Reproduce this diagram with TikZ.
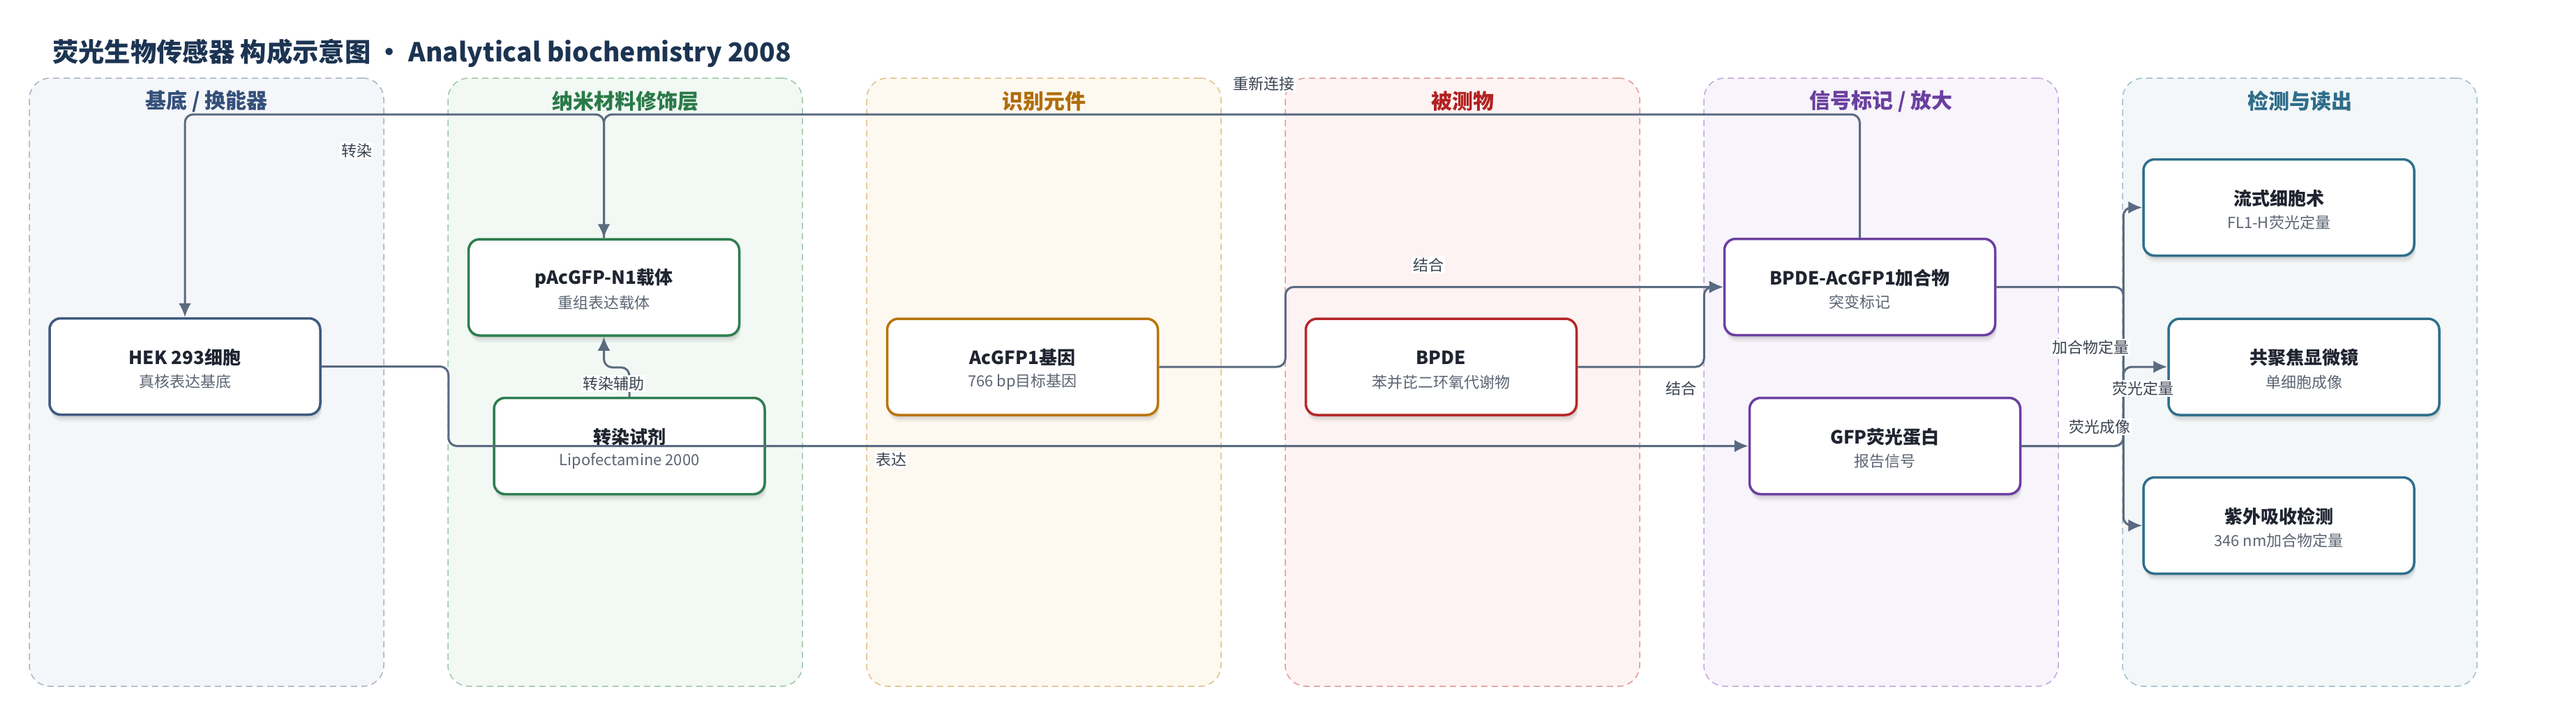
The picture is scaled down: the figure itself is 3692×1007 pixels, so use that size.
\documentclass[tikz,border=0pt]{standalone}
\usepackage{fontspec}
\setmainfont{Noto Sans CJK SC}
\usetikzlibrary{arrows.meta,shadows,calc}

\definecolor{edgec}{HTML}{5A6A80}
\definecolor{titlec}{HTML}{1C3452}
\definecolor{nodetxt}{HTML}{1F2430}
\definecolor{subtxt}{HTML}{5C6573}
\definecolor{labtxt}{HTML}{3A4350}
% panel colours: title, node border, fill, dashed border
\definecolor{aT}{HTML}{34507A}\definecolor{aN}{HTML}{3D5A80}\definecolor{aF}{HTML}{F5F6FA}\definecolor{aD}{HTML}{A8B3C7}
\definecolor{bT}{HTML}{2A7A48}\definecolor{bN}{HTML}{2E7D4F}\definecolor{bF}{HTML}{F2F8F4}\definecolor{bD}{HTML}{9CC7AA}
\definecolor{cT}{HTML}{B06D0A}\definecolor{cN}{HTML}{B8740A}\definecolor{cF}{HTML}{FDF8F0}\definecolor{cD}{HTML}{E3BF88}
\definecolor{dT}{HTML}{B22222}\definecolor{dN}{HTML}{B5282A}\definecolor{dF}{HTML}{FDF3F2}\definecolor{dD}{HTML}{E29896}
\definecolor{eT}{HTML}{6A3FA0}\definecolor{eN}{HTML}{6B3FA0}\definecolor{eF}{HTML}{F7F4FB}\definecolor{eD}{HTML}{C2A7DC}
\definecolor{fT}{HTML}{2E6D8A}\definecolor{fN}{HTML}{2F6F8C}\definecolor{fF}{HTML}{F3F7F8}\definecolor{fD}{HTML}{9EBFCB}

\tikzset{
  panelbox/.style={rounded corners=30pt, dash pattern=on 9pt off 6pt, line width=1.5pt,
    minimum width=508pt, minimum height=872pt, inner sep=0pt},
  ptitle/.style={font=\bfseries\fontsize{30}{34}\selectfont, inner sep=0pt},
  bx/.style={rectangle, rounded corners=16pt, line width=3.5pt, fill=white,
    minimum width=388pt, minimum height=138pt, inner sep=0pt,
    drop shadow={shadow xshift=1pt, shadow yshift=-4pt, opacity=0.07, fill=black},
    drop shadow={shadow xshift=2pt, shadow yshift=-7pt, opacity=0.05, fill=black},
    drop shadow={shadow xshift=2pt, shadow yshift=-10pt, opacity=0.04, fill=black}},
  ntitle/.style={font=\bfseries\fontsize{26}{30}\selectfont, text=nodetxt, inner sep=0pt},
  nsub/.style={font=\fontsize{22}{26}\selectfont, text=subtxt, inner sep=0pt},
  edge/.style={draw=edgec, line width=3pt, rounded corners=12pt,
    -{Latex[length=20pt,width=18pt]}},
  elab/.style={font=\fontsize{22}{26}\selectfont, text=labtxt, fill=white, inner sep=2pt},
}

\newcommand{\bnode}[6]{%
  \node[bx, draw=#4] (#1) at (#2,#3) {};
  \node[ntitle] (#1-t) at ($(#1.center)+(0,-13)$) {#5};
  \node[nsub] (#1-s) at ($(#1.center)+(0,22)$) {#6};
}

\begin{document}
\begin{tikzpicture}[x=1pt,y=-1pt]
\useasboundingbox (0,0) rectangle (3692,1007);

% title
\node[anchor=west, font=\bfseries\fontsize{37.3}{44}\selectfont, text=titlec, inner sep=0pt] (title)
  at (75,76) {荧光生物传感器 构成示意图 · Analytical biochemistry 2008};

% panels
\node[panelbox, fill=aF, draw=aD] (p1) at (296,548) {};
\node[panelbox, fill=bF, draw=bD] (p2) at (896,548) {};
\node[panelbox, fill=cF, draw=cD] (p3) at (1496,548) {};
\node[panelbox, fill=dF, draw=dD] (p4) at (2096,548) {};
\node[panelbox, fill=eF, draw=eD] (p5) at (2696,548) {};
\node[panelbox, fill=fF, draw=fD] (p6) at (3296,548) {};
\node[ptitle, text=aT] (p1t) at (296,145) {基底 / 换能器};
\node[ptitle, text=bT] (p2t) at (896,145) {纳米材料修饰层};
\node[ptitle, text=cT] (p3t) at (1496,145) {识别元件};
\node[ptitle, text=dT] (p4t) at (2096,145) {被测物};
\node[ptitle, text=eT] (p5t) at (2696,145) {信号标记 / 放大};
\node[ptitle, text=fT] (p6t) at (3296,145) {检测与读出};

% nodes
\bnode{hek}{265}{525.5}{aN}{HEK 293细胞}{真核表达基底}
\bnode{vec}{865.5}{412}{bN}{pAcGFP-N1载体}{重组表达载体}
\bnode{lipo}{902}{639.5}{bN}{转染试剂}{Lipofectamine 2000}
\bnode{gene}{1465.5}{526}{cN}{AcGFP1基因}{766 bp目标基因}
\bnode{bpde}{2065.5}{526}{dN}{BPDE}{苯并芘二环氧代谢物}
\bnode{add}{2665.5}{411.5}{eN}{BPDE-AcGFP1加合物}{突变标记}
\bnode{gfp}{2701.5}{639.5}{eN}{GFP荧光蛋白}{报告信号}
\bnode{flow}{3266}{297.5}{fN}{流式细胞术}{FL1-H荧光定量}
\bnode{conf}{3302}{526}{fN}{共聚焦显微镜}{单细胞成像}
\bnode{uv}{3266}{753.5}{fN}{紫外吸收检测}{346 nm加合物定量}

% connectors
\coordinate (ytop) at (0,164);
\draw[edge] (add.north) -- (add.north |- ytop) -- (vec.north |- ytop) -- (vec.north);
\draw[edge] (vec.north) -- (vec.north |- ytop) -- (hek.north |- ytop) -- (hek.north);
\draw[edge] (lipo.north) -- ++(0,-42) -| (vec.south);
\draw[edge] (hek.east) -- ++(182,0) |- (gfp.west);
\draw[edge] (gene.east) -- ++(181,0) |- (add.west);
\draw[edge] (bpde.east) -- ++(181,0) |- (add.west);
\draw[edge] (add.east) -- ++(182,0) |- (uv.west);
\draw[edge] (gfp.east) -- ++(146,0) |- (flow.west);
\draw[edge] (gfp.east) -- ++(146,0) |- (conf.west);

% connector labels
\node[elab] (l1) at (1811,120) {重新连接};
\node[elab] (l2) at (511,216) {转染};
\node[elab] (l3) at (879,550) {转染辅助};
\node[elab] (l4) at (1277,659) {表达};
\node[elab] (l5) at (2047,380) {结合};
\node[elab] (l6) at (2409,557) {结合};
\node[elab] (l7) at (2996,498) {加合物定量};
\node[elab] (l8) at (3071,557) {荧光定量};
\node[elab] (l9) at (3009,612) {荧光成像};
\end{tikzpicture}
\end{document}
